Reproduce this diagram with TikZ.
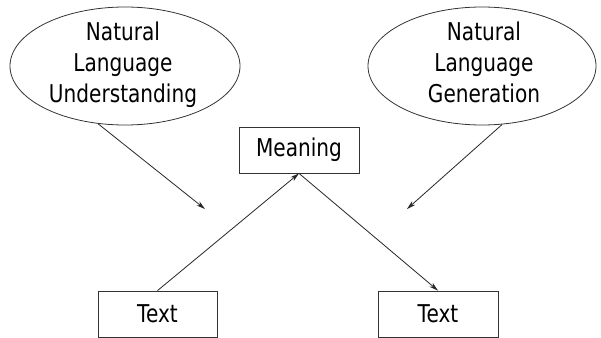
\documentclass[tikz,border=0pt]{standalone}
\usepackage{fontspec}
\setmainfont[FakeStretch=0.82]{DejaVu Sans}
\usetikzlibrary{shapes.geometric,arrows.meta}
\begin{document}
\begin{tikzpicture}[x=1pt,y=-1pt,
  every node/.style={font=\fontsize{24.5}{31}\selectfont},
  bubble/.style={draw=black!80, line width=0.8pt, ellipse, inner sep=0pt},
  label/.style={align=center, inner sep=0pt},
  boxnode/.style={draw=black!80, line width=0.8pt, rectangle, inner sep=0pt},
  conn/.style={draw=black!85, line width=0.8pt, -{Stealth[length=9pt,width=5pt]}}]
\useasboundingbox (0,0) rectangle (601,337);
\node[bubble, minimum width=230pt, minimum height=118pt] (nlu) at (125,66) {};
\node[label] (nlut) at (123,65) {Natural\\Language\\Understanding};
\node[bubble, minimum width=228pt, minimum height=118pt] (nlg) at (482,66) {};
\node[label] (nlgt) at (484,62) {Natural\\Language\\Generation};
\node[boxnode, minimum width=120pt, minimum height=46pt] (m) at (299,150) {Meaning};
\node[boxnode, minimum width=119pt, minimum height=46pt] (t1) at (157.5,314) {Text};
\node[boxnode, minimum width=120pt, minimum height=46pt] (t2) at (438,314) {Text};
\coordinate (p1) at (205,209);
\coordinate (p2) at (407,209);
\draw[conn] (nlu.245) -- (p1);
\draw[conn] (nlg.289) -- (p2);
\draw[conn] (t1.north) -- (m.south);
\draw[conn] (m.south) -- (t2.north);
\end{tikzpicture}
\end{document}
